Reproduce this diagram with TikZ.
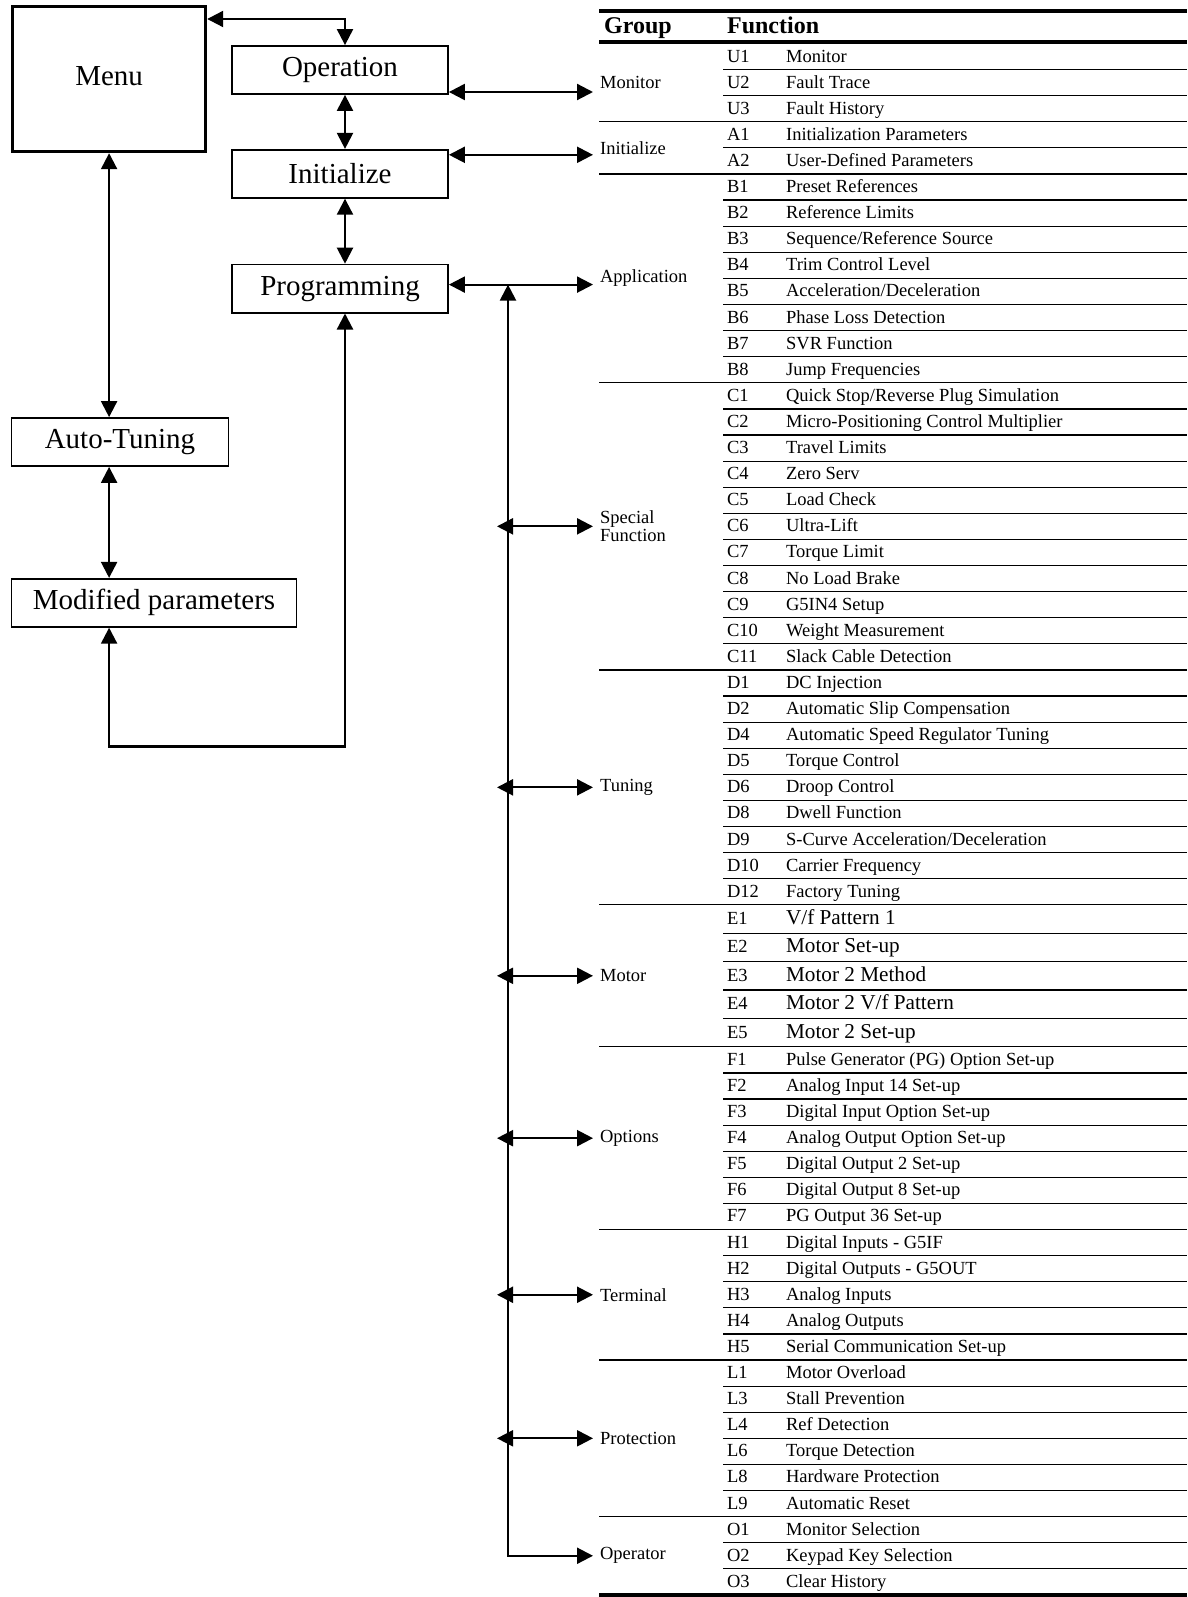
\documentclass[tikz,border=0pt]{standalone}
\usepackage{fontspec}
\setmainfont{Liberation Serif}
\usepackage{tikz}
\usetikzlibrary{arrows.meta, positioning}

\tikzset{
  box/.style={draw, line width=1.8pt, minimum width=216pt, minimum height=48pt, inner sep=0pt, font=\fontsize{29}{32}\selectfont},
  grp/.style={anchor=west, inner xsep=6pt, inner ysep=0pt, align=left, font=\fontsize{18.5}{17.5}\selectfont},
  cell/.style={anchor=west, inner sep=0pt, text height=14pt, text depth=3pt},
  head/.style={anchor=base west, inner sep=0pt, font=\bfseries\fontsize{24}{28}\selectfont},
  rule/.style={-, line width=1.2pt},
  hrule/.style={-, line width=3.6pt}
}

\begin{document}
\begin{tikzpicture}[x=1pt, y=-1pt, <->, >={Triangle[length=16pt, width=16pt]}, line width=2.2pt]
    \useasboundingbox (0,0) rectangle (1187,1597);

    \node[box, line width=3.2pt, minimum width=193pt, minimum height=145pt, anchor=north west] (menu) at (11,5) {\raisebox{6pt}{Menu}};
    \node[box] (oper) at (340,70) {Operation};
    \node[box, below=54pt of oper] (init) {Initialize};
    \node[box, below=65pt of init] (pgm) {Programming};
    \node[box, minimum width=217pt] (auto) at (120,442) {Auto-Tuning};
    \node[box, minimum width=285pt, below=111pt of auto.south west, anchor=north west] (mod) {Modified parameters};

    \draw[hrule] (599,11) -- (1187,11);
    \node[head] (hgrp) at (603,33.5) {Group};
    \node[head] (hfun) at (726,33.5) {Function};
    \draw[hrule] (599,41.8) -- (1187,41.8);

    \foreach \gy/\nr/\rh/\fs/\gn/\gl/\rows in {
      43.5/3/26.1/18.5/mon/Monitor/{U1/Monitor, U2/Fault Trace, U3/Fault History},
      121.8/2/26.1/18.5/ini/Initialize/{A1/Initialization Parameters, A2/User-Defined Parameters},
      174/8/26.1/18.5/app/Application/{B1/Preset References, B2/Reference Limits, B3/{Sequence/Reference Source}, B4/Trim Control Level, B5/{Acceleration/Deceleration}, B6/Phase Loss Detection, B7/SVR Function, B8/Jump Frequencies},
      382.8/11/26.1/18.5/spf/{Special\\Function}/{C1/{Quick Stop/Reverse Plug Simulation}, C2/Micro-Positioning Control Multiplier, C3/Travel Limits, C4/Zero Serv, C5/Load Check, C6/Ultra-Lift, C7/Torque Limit, C8/No Load Brake, C9/G5IN4 Setup, C10/Weight Measurement, C11/Slack Cable Detection},
      669.9/9/26.1/18.5/tun/Tuning/{D1/DC Injection, D2/Automatic Slip Compensation, D4/Automatic Speed Regulator Tuning, D5/Torque Control, D6/Droop Control, D8/Dwell Function, D9/{S-Curve Acceleration/Deceleration}, D10/Carrier Frequency, D12/Factory Tuning},
      904.8/5/28.4/21.2/mot/Motor/{E1/{V/f Pattern 1}, E2/Motor Set-up, E3/Motor 2 Method, E4/{Motor 2 V/f Pattern}, E5/Motor 2 Set-up},
      1046.8/7/26.1/18.5/opt/Options/{F1/Pulse Generator (PG) Option Set-up, F2/Analog Input 14 Set-up, F3/Digital Input Option Set-up, F4/Analog Output Option Set-up, F5/Digital Output 2 Set-up, F6/Digital Output 8 Set-up, F7/PG Output 36 Set-up},
      1229.5/5/26.1/18.5/ter/Terminal/{H1/Digital Inputs - G5IF, H2/Digital Outputs - G5OUT, H3/Analog Inputs, H4/Analog Outputs, H5/Serial Communication Set-up},
      1360/6/26.1/18.5/pro/Protection/{L1/Motor Overload, L3/Stall Prevention, L4/Ref Detection, L6/Torque Detection, L8/Hardware Protection, L9/Automatic Reset},
      1516.6/3/26.1/18.5/opr/Operator/{O1/Monitor Selection, O2/Keypad Key Selection, O3/Clear History}}{
      \node[grp] (\gn) at (593,\gy+\rh*\nr/2) {\gl};
      \draw[rule] (599,\gy) -- (1187,\gy);
      \foreach \c/\t [count=\k] in \rows {
        \node[cell, font=\fontsize{18.5}{22}\selectfont] (\gn-c\k) at (726,\gy+\rh*\k-\rh/2) {\c};
        \node[cell, font=\fontsize{\fs}{22}\selectfont] (\gn-t\k) at (785,\gy+\rh*\k-\rh/2) {\t};
        \ifnum\k<\nr \draw[rule] (723,\gy+\rh*\k) -- (1187,\gy+\rh*\k); \fi
      }
    }
    \draw[hrule] (599,1594.9) -- (1187,1594.9);

    \coordinate (vx) at (345,0);
    \coordinate (bus) at (508,0);
    \coordinate (o1) at ([yshift=-22pt]oper.east);
    \coordinate (i1) at ([yshift=19pt]init.east);
    \coordinate (p1) at ([yshift=4pt]pgm.east);

    \draw ([yshift=-14pt]menu.north east) -| (vx |- oper.north);
    \draw (vx |- oper.south) -- (vx |- init.north);
    \draw (vx |- init.south) -- (vx |- pgm.north);
    \draw (o1) -- (o1 -| mon.west);
    \draw (i1) -- (i1 -| ini.west);
    \draw (p1) -- (p1 -| app.west);
    \draw (bus |- p1) -- (bus |- opr.west) -- (opr.west);
    \foreach \g in {spf,tun,mot,opt,ter,pro} {
      \path (bus |- \g.west) coordinate (b\g);
      \draw ([xshift=-11pt]b\g) -- (\g.west);
    }

    \draw (menu.south) -- (menu.south |- auto.north);
    \draw (menu.south |- auto.south) -- (menu.south |- mod.north);
    \draw (vx |- pgm.south) -- ++(0,433) -| (menu.south |- mod.south);
\end{tikzpicture}
\end{document}
